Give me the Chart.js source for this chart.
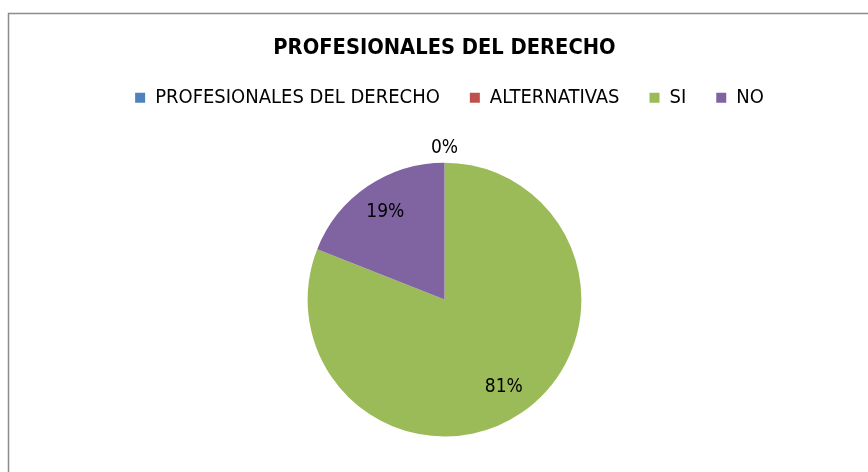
<!DOCTYPE html>
<html>
<head>
<meta charset="utf-8">
<script src="https://cdn.jsdelivr.net/npm/chart.js@4.4.1/dist/chart.umd.min.js"></script>
<style>
  html, body { margin: 0; padding: 0; background: #fff; }
  #wrap { width: 868px; height: 472px; position: relative; }
</style>
</head>
<body>
<div id="wrap"><canvas id="chart"></canvas></div>
<script>
const chartTitle = 'PROFESIONALES DEL DERECHO';
const categories = ['PROFESIONALES DEL DERECHO', 'ALTERNATIVAS', 'SI', 'NO'];
const values = [0, 0, 81, 19];
const colors = ['#4F81BD', '#C0504D', '#9BBB59', '#8064A2'];

const fontFamily = '"Liberation Sans Narrow", "DejaVu Sans Condensed", "Liberation Sans", sans-serif';

// frame around the chart + legend spacing tweaks
const framePlugin = {
  id: 'frame',
  beforeInit(chart) {
    // leave a gap under the legend before the pie
    const legend = chart.legend;
    if (legend) {
      const fit = legend.fit;
      legend.fit = function () {
        fit.call(this);
        this.height += 45;
      };
    }
  },
  afterLayout(chart) {
    // legend sits a bit right of the pie centre in the original
    if (chart.legend) chart.legend.left += 10;
  },
  beforeDraw(chart) {
    const ctx = chart.ctx;
    ctx.save();
    ctx.strokeStyle = '#8c8c8c';
    ctx.lineWidth = 1.5;
    ctx.strokeRect(8.5, 13.5, 900, 500);
    ctx.restore();
  }
};

// percentage labels, Excel style
const pctLabels = {
  id: 'pctLabels',
  afterDatasetsDraw(chart) {
    const ctx = chart.ctx;
    const data = chart.data.datasets[0].data;
    const total = data.reduce((a, b) => a + b, 0);
    const seen = new Set();
    ctx.save();
    ctx.font = '19px ' + fontFamily;
    ctx.fillStyle = '#000';
    ctx.textAlign = 'center';
    ctx.textBaseline = 'middle';
    chart.getDatasetMeta(0).data.forEach((arc, i) => {
      const p = arc.getProps(['x', 'y', 'startAngle', 'endAngle', 'outerRadius'], true);
      const mid = (p.startAngle + p.endAngle) / 2;
      const r = data[i] === 0 ? p.outerRadius + 15 : p.outerRadius * 0.77;
      const x = p.x + Math.cos(mid) * r;
      const y = p.y + Math.sin(mid) * r;
      const key = Math.round(x) + ',' + Math.round(y);
      if (seen.has(key)) return;
      seen.add(key);
      ctx.fillText(Math.round(data[i] / total * 100) + '%', x, y);
    });
    ctx.restore();
  }
};

new Chart(document.getElementById('chart'), {
  type: 'pie',
  data: {
    labels: categories,
    datasets: [{
      data: values,
      backgroundColor: colors,
      borderWidth: 0
    }]
  },
  options: {
    responsive: true,
    maintainAspectRatio: false,
    animation: false,
    layout: { padding: { left: 21, right: 0, top: 0, bottom: 35.5 } },
    plugins: {
      title: {
        display: true,
        text: chartTitle,
        color: '#000',
        font: { family: fontFamily, size: 21.7, weight: 'bold', lineHeight: 1 },
        padding: { top: 38, bottom: -2 }
      },
      legend: {
        position: 'top',
        labels: {
          color: '#000',
          font: { family: fontFamily, size: 20 },
          boxWidth: 10,
          boxHeight: 10,
          padding: 30
        }
      },
      tooltip: { enabled: false }
    }
  },
  plugins: [framePlugin, pctLabels]
});
</script>
</body>
</html>
